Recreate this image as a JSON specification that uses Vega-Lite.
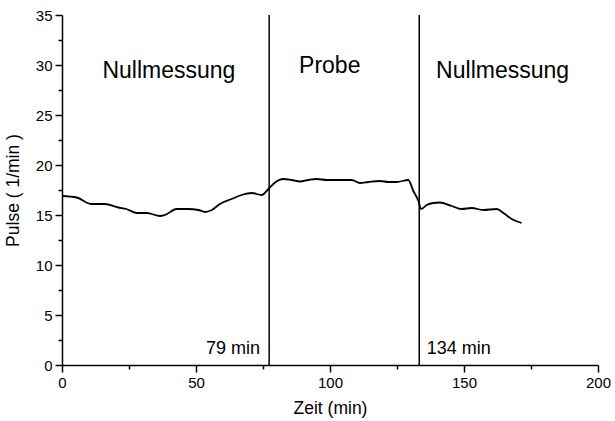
{
  "$schema": "https://vega.github.io/schema/vega-lite/v6.json",
  "width": 536,
  "height": 350,
  "autosize": {"type": "none"},
  "padding": {"left": 62, "top": 15, "right": 17, "bottom": 56},
  "background": "white",
  "config": {
    "view": {"stroke": null},
    "font": "Liberation Sans",
    "axis": {
      "domainColor": "black",
      "domainWidth": 1.5,
      "tickColor": "black",
      "tickWidth": 1.5,
      "grid": false,
      "labelColor": "black",
      "titleColor": "black",
      "labelFont": "Liberation Sans",
      "titleFont": "Liberation Sans",
      "labelFontSize": 15,
      "titleFontSize": 17.5,
      "titleFontWeight": "normal"
    }
  },
  "resolve": {"axis": {"x": "independent", "y": "independent"}},
  "datasets": {
    "pulse": [
      {"t": 0, "v": 16.9}, {"t": 5.5, "v": 16.75}, {"t": 11, "v": 16.1}, {"t": 16, "v": 16.1},
      {"t": 21, "v": 15.75}, {"t": 24, "v": 15.6}, {"t": 28, "v": 15.2}, {"t": 31.6, "v": 15.2},
      {"t": 36.6, "v": 14.9}, {"t": 38.4, "v": 15.0}, {"t": 42.8, "v": 15.6}, {"t": 47.1, "v": 15.6},
      {"t": 50.9, "v": 15.5}, {"t": 53.4, "v": 15.3}, {"t": 55.9, "v": 15.5}, {"t": 58.9, "v": 16.1},
      {"t": 63.3, "v": 16.6}, {"t": 67, "v": 17.0}, {"t": 70.8, "v": 17.2}, {"t": 74.5, "v": 17.0},
      {"t": 77, "v": 17.6}, {"t": 79.5, "v": 18.25}, {"t": 82.6, "v": 18.6}, {"t": 85.7, "v": 18.5},
      {"t": 88.8, "v": 18.35}, {"t": 91.9, "v": 18.5}, {"t": 95, "v": 18.6}, {"t": 98.8, "v": 18.5},
      {"t": 103.7, "v": 18.5}, {"t": 108.1, "v": 18.5}, {"t": 111.2, "v": 18.2}, {"t": 114.3, "v": 18.3},
      {"t": 118.7, "v": 18.4}, {"t": 121.8, "v": 18.3}, {"t": 124.9, "v": 18.3}, {"t": 129.2, "v": 18.5},
      {"t": 131.1, "v": 17.4}, {"t": 133, "v": 16.4}, {"t": 134, "v": 15.6}, {"t": 136.1, "v": 16.0},
      {"t": 138.5, "v": 16.2}, {"t": 141, "v": 16.25}, {"t": 145.4, "v": 15.9}, {"t": 149.1, "v": 15.6},
      {"t": 152.9, "v": 15.7}, {"t": 157.2, "v": 15.5}, {"t": 162.2, "v": 15.6}, {"t": 164.7, "v": 15.2},
      {"t": 167.8, "v": 14.6}, {"t": 171.5, "v": 14.2}
    ],
    "marks": [{"t": 77.3}, {"t": 133.3}],
    "phases": [
      {"t": 39.9, "v": 28.7, "label": "Nullmessung"},
      {"t": 99.9, "v": 29.2, "label": "Probe"},
      {"t": 164.4, "v": 28.7, "label": "Nullmessung"}
    ],
    "timeL": [{"t": 73.9, "v": 1.07, "label": "79 min"}],
    "timeR": [{"t": 136.1, "v": 1.07, "label": "134 min"}]
  },
  "layer": [
    {
      "data": {"name": "pulse"},
      "mark": {"type": "line", "color": "black", "strokeWidth": 1.8, "interpolate": "monotone"},
      "encoding": {
        "x": {
          "field": "t", "type": "quantitative",
          "scale": {"domain": [0, 200], "nice": false},
          "axis": {
            "orient": "bottom",
            "title": "Zeit (min)",
            "values": [0, 50, 100, 150, 200],
            "tickSize": 7,
            "labelPadding": 3,
            "titlePadding": 9,
            "labelFlush": false
          }
        },
        "y": {
          "field": "v", "type": "quantitative",
          "scale": {"domain": [0, 35], "nice": false},
          "axis": {
            "orient": "left",
            "title": "Pulse ( 1/min )",
            "values": [0, 5, 10, 15, 20, 25, 30, 35],
            "tickSize": 7,
            "labelPadding": 3,
            "titlePadding": 13,
            "labelFlush": false
          }
        }
      }
    },
    {
      "data": {"name": "marks"},
      "mark": {"type": "rule", "color": "black", "strokeWidth": 1.5},
      "encoding": {"x": {"field": "t", "type": "quantitative", "axis": null}}
    },
    {
      "data": {"name": "phases"},
      "mark": {"type": "text", "font": "Liberation Sans", "fontSize": 23, "color": "black", "align": "center", "baseline": "alphabetic"},
      "encoding": {
        "x": {
          "field": "t", "type": "quantitative",
          "axis": {"orient": "bottom", "title": null, "values": [25, 75, 125, 175], "labels": false, "domain": false, "tickSize": 4}
        },
        "y": {
          "field": "v", "type": "quantitative",
          "axis": {"orient": "left", "title": null, "values": [2.5, 7.5, 12.5, 17.5, 22.5, 27.5, 32.5], "labels": false, "domain": false, "tickSize": 4}
        },
        "text": {"field": "label"}
      }
    },
    {
      "data": {"name": "timeL"},
      "mark": {"type": "text", "font": "Liberation Sans", "fontSize": 18, "color": "black", "baseline": "alphabetic", "align": "right"},
      "encoding": {
        "x": {"field": "t", "type": "quantitative", "axis": null},
        "y": {"field": "v", "type": "quantitative", "axis": null},
        "text": {"field": "label"}
      }
    },
    {
      "data": {"name": "timeR"},
      "mark": {"type": "text", "font": "Liberation Sans", "fontSize": 18, "color": "black", "baseline": "alphabetic", "align": "left"},
      "encoding": {
        "x": {"field": "t", "type": "quantitative", "axis": null},
        "y": {"field": "v", "type": "quantitative", "axis": null},
        "text": {"field": "label"}
      }
    }
  ]
}
